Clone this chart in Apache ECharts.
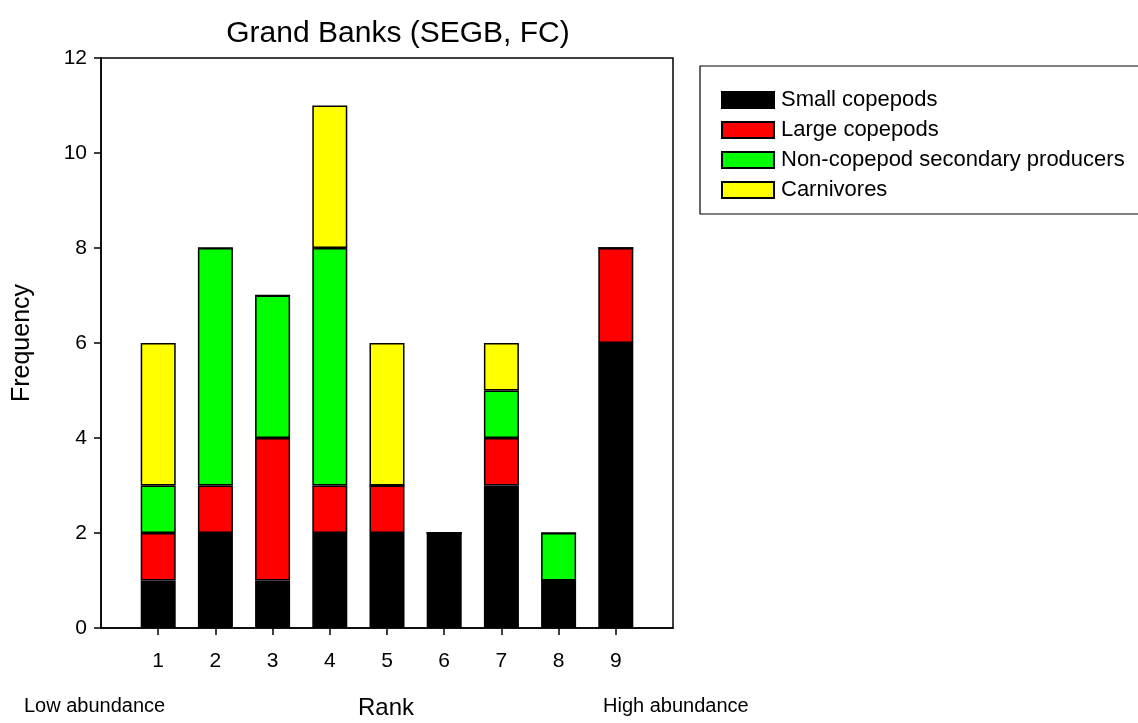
<!DOCTYPE html>
<html>
<head>
<meta charset="utf-8">
<script src="https://cdn.jsdelivr.net/npm/echarts@6/dist/echarts.min.js"></script>
<style>html,body{margin:0;padding:0;background:#fff;}#c{width:1138px;height:723px;}</style>
</head>
<body>
<div id="c"></div>
<script>
const ranks = ['1', '2', '3', '4', '5', '6', '7', '8', '9'];
const smallCopepods = [1, 2, 1, 2, 2, 2, 3, 1, 6];
const largeCopepods = [1, 1, 3, 1, 1, 0, 1, 0, 2];
const nonCopepod = [1, 5, 3, 5, 0, 0, 1, 1, 0];
const carnivores = [3, 0, 0, 3, 3, 0, 1, 0, 0];
const seriesNames = ['Small copepods', 'Large copepods', 'Non-copepod secondary producers', 'Carnivores'];
const seriesColors = ['#000000', '#ff0000', '#00ff00', '#ffff00'];

const FONT = 'Liberation Sans, Arial, sans-serif';
const chart = echarts.init(document.getElementById('c'), null, {renderer: 'canvas'});
const allData = [smallCopepods, largeCopepods, nonCopepod, carnivores];
// pad one empty slot on each side so ranks sit inside the frame like the original
const axisCats = ['0'].concat(ranks, ['10']);
const showIdx = (idx) => idx > 0 && idx < axisCats.length - 1;

chart.setOption({
  animation: false,
  backgroundColor: '#fff',
  title: {
    text: 'Grand Banks (SEGB, FC)',
    left: 393, top: 14, textAlign: 'center',
    textStyle: {fontFamily: FONT, fontSize: 30, fontWeight: 'normal', color: '#000'}
  },
  grid: {left: 101, right: 465, top: 58, bottom: 95, show: true, borderColor: '#000', borderWidth: 1.5, backgroundColor: 'transparent'},
  legend: {
    orient: 'vertical', left: 716, top: 84,
    itemWidth: 52, itemHeight: 16, itemGap: 8,
    icon: 'rect',
    data: seriesNames,
    textStyle: {fontFamily: FONT, fontSize: 22, color: '#000', padding: [0, 0, 0, 2]}
  },
  xAxis: {
    type: 'category', data: axisCats, boundaryGap: false,
    splitLine: {show: false},
    axisLine: {show: true, lineStyle: {color: '#000', width: 1.5}},
    axisTick: {show: true, interval: showIdx, length: 7, lineStyle: {color: '#000', width: 1.5}},
    axisLabel: {interval: showIdx, margin: 23, fontFamily: FONT, fontSize: 21, color: '#000'}
  },
  yAxis: {
    type: 'value', min: 0, max: 12, interval: 2,
    splitLine: {show: false},
    axisLine: {show: true, lineStyle: {color: '#000', width: 1.5}},
    axisTick: {show: true, length: 7, lineStyle: {color: '#000', width: 1.5}},
    axisLabel: {margin: 14, fontFamily: FONT, fontSize: 21, color: '#000'}
  },
  graphic: [
    {type: 'rect', shape: {x: 700, y: 66, width: 460, height: 148}, style: {fill: 'none', stroke: '#000', lineWidth: 1.2}, z: 0},
    {type: 'text', left: 24, top: 696, style: {text: 'Low abundance', font: '20px ' + FONT, fill: '#000'}},
    {type: 'text', left: 603, top: 696, style: {text: 'High abundance', font: '20px ' + FONT, fill: '#000'}},
    {type: 'text', x: 386, y: 708, style: {text: 'Rank', font: '24px ' + FONT, fill: '#000', textAlign: 'center', textVerticalAlign: 'middle'}},
    {type: 'text', x: 22, y: 343, rotation: Math.PI / 2, style: {text: 'Frequency', font: '25px ' + FONT, fill: '#000', textAlign: 'center', textVerticalAlign: 'middle'}}
  ],
  series: seriesNames.map((name, i) => ({
    name: name,
    type: 'bar',
    stack: 'total',
    barWidth: 35,
    itemStyle: {color: seriesColors[i], borderColor: '#000', borderWidth: 1.5},
    data: [null].concat(allData[i], [null])
  }))
});
</script>
</body>
</html>
